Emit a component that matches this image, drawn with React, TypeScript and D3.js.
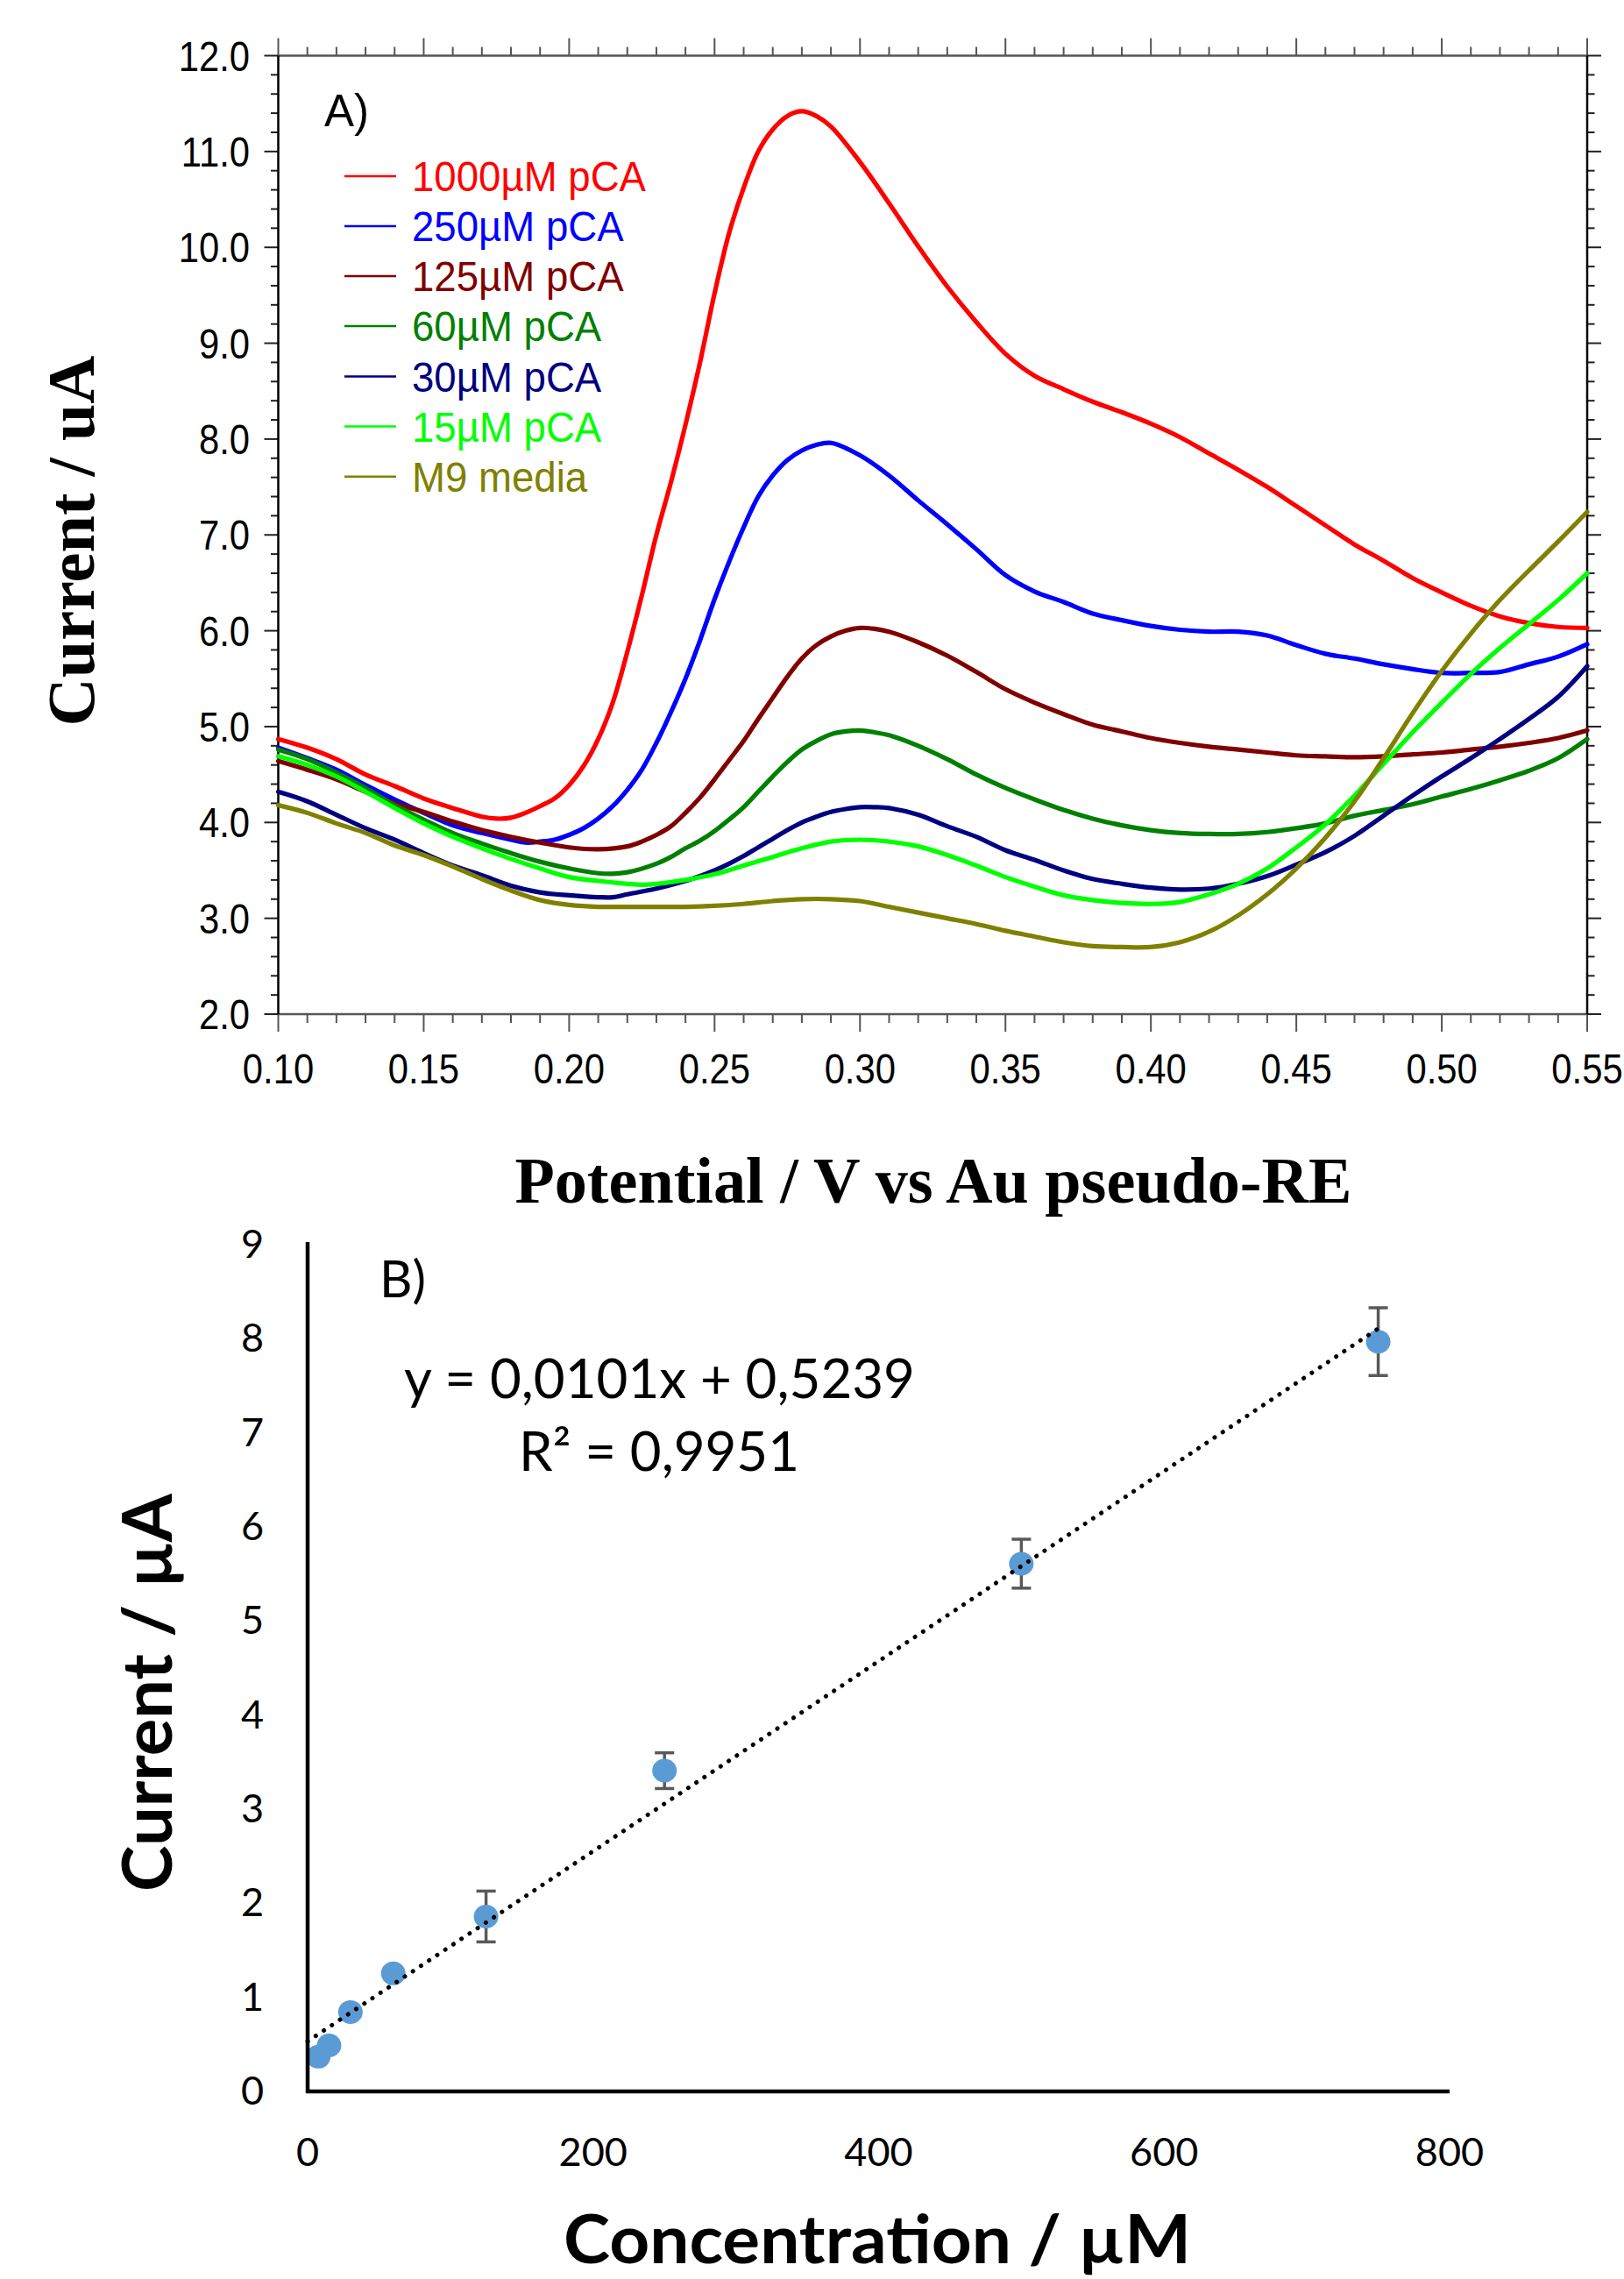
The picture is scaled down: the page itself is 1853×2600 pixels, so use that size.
import React from "react";
import * as d3 from "d3";

// ---------- Panel A data: potential (V) vs current (uA) ----------
const curve1000: [number, number][] = [
  [0.10, 4.87], [0.11, 4.78], [0.12, 4.66], [0.13, 4.50], [0.14, 4.38], [0.15, 4.25], [0.16, 4.15], [0.17, 4.06],
  [0.175, 4.04], [0.18, 4.05], [0.185, 4.10], [0.19, 4.17], [0.195, 4.25], [0.20, 4.39], [0.205, 4.59], [0.21, 4.87],
  [0.215, 5.25], [0.22, 5.78], [0.225, 6.37], [0.23, 7.00], [0.235, 7.55], [0.24, 8.15], [0.245, 8.80], [0.25, 9.52],
  [0.255, 10.15], [0.26, 10.62], [0.265, 11.00], [0.27, 11.23], [0.275, 11.37], [0.28, 11.42], [0.285, 11.37], [0.29, 11.26],
  [0.30, 10.89], [0.31, 10.46], [0.32, 10.01], [0.33, 9.59], [0.34, 9.22], [0.35, 8.89], [0.36, 8.66], [0.37, 8.52],
  [0.38, 8.39], [0.39, 8.28], [0.40, 8.16], [0.41, 8.02], [0.42, 7.85], [0.43, 7.68], [0.44, 7.50], [0.45, 7.30],
  [0.46, 7.10], [0.47, 6.90], [0.48, 6.73], [0.49, 6.55], [0.50, 6.40], [0.51, 6.26], [0.52, 6.15], [0.53, 6.08],
  [0.54, 6.04], [0.55, 6.03],
];
const curve250: [number, number][] = [
  [0.10, 4.78], [0.11, 4.67], [0.12, 4.55], [0.13, 4.39], [0.14, 4.24], [0.15, 4.10], [0.16, 3.97], [0.17, 3.89],
  [0.18, 3.82], [0.185, 3.79], [0.19, 3.80], [0.195, 3.82], [0.20, 3.87], [0.205, 3.94], [0.21, 4.04], [0.215, 4.17],
  [0.22, 4.34], [0.225, 4.55], [0.23, 4.83], [0.235, 5.15], [0.24, 5.50], [0.245, 5.90], [0.25, 6.33], [0.255, 6.72],
  [0.26, 7.08], [0.265, 7.40], [0.27, 7.62], [0.275, 7.78], [0.28, 7.88], [0.285, 7.94], [0.29, 7.96], [0.30, 7.83],
  [0.31, 7.62], [0.32, 7.36], [0.33, 7.11], [0.34, 6.85], [0.35, 6.58], [0.36, 6.41], [0.37, 6.30], [0.38, 6.18],
  [0.39, 6.11], [0.40, 6.05], [0.41, 6.01], [0.42, 5.99], [0.43, 5.99], [0.44, 5.95], [0.45, 5.85], [0.46, 5.76],
  [0.47, 5.71], [0.48, 5.65], [0.49, 5.60], [0.50, 5.56], [0.51, 5.56], [0.52, 5.57], [0.53, 5.65], [0.54, 5.73],
  [0.55, 5.86],
];
const curve125: [number, number][] = [
  [0.10, 4.64], [0.11, 4.55], [0.12, 4.45], [0.13, 4.32], [0.14, 4.20], [0.15, 4.11], [0.16, 4.01], [0.17, 3.92],
  [0.18, 3.85], [0.19, 3.79], [0.20, 3.74], [0.21, 3.72], [0.22, 3.75], [0.225, 3.80], [0.23, 3.87], [0.235, 3.96],
  [0.24, 4.10], [0.245, 4.26], [0.25, 4.45], [0.255, 4.65], [0.26, 4.85], [0.265, 5.08], [0.27, 5.30], [0.275, 5.52],
  [0.28, 5.71], [0.285, 5.85], [0.29, 5.94], [0.295, 6.00], [0.30, 6.03], [0.305, 6.02], [0.31, 5.99], [0.32, 5.88],
  [0.33, 5.74], [0.34, 5.57], [0.35, 5.39], [0.36, 5.25], [0.37, 5.13], [0.38, 5.02], [0.39, 4.95], [0.40, 4.88],
  [0.41, 4.83], [0.42, 4.79], [0.43, 4.76], [0.44, 4.73], [0.45, 4.70], [0.46, 4.69], [0.47, 4.68], [0.48, 4.69],
  [0.49, 4.71], [0.50, 4.73], [0.51, 4.76], [0.52, 4.79], [0.53, 4.83], [0.54, 4.88], [0.55, 4.96],
];
const curve60: [number, number][] = [
  [0.10, 4.76], [0.11, 4.66], [0.12, 4.52], [0.13, 4.36], [0.14, 4.18], [0.15, 4.03], [0.16, 3.89], [0.17, 3.78],
  [0.18, 3.68], [0.19, 3.59], [0.20, 3.52], [0.21, 3.47], [0.215, 3.465], [0.22, 3.48], [0.23, 3.57], [0.235, 3.64],
  [0.24, 3.73], [0.245, 3.81], [0.25, 3.91], [0.255, 4.03], [0.26, 4.16], [0.265, 4.32], [0.27, 4.48], [0.275, 4.63],
  [0.28, 4.76], [0.285, 4.85], [0.29, 4.92], [0.295, 4.95], [0.30, 4.96], [0.305, 4.94], [0.31, 4.91], [0.32, 4.80],
  [0.33, 4.66], [0.34, 4.50], [0.35, 4.36], [0.36, 4.24], [0.37, 4.13], [0.38, 4.04], [0.39, 3.97], [0.40, 3.92],
  [0.41, 3.89], [0.42, 3.88], [0.43, 3.88], [0.44, 3.90], [0.45, 3.94], [0.46, 3.99], [0.47, 4.07], [0.48, 4.13],
  [0.49, 4.19], [0.50, 4.27], [0.51, 4.35], [0.52, 4.44], [0.53, 4.54], [0.54, 4.67], [0.55, 4.87],
];
const curve30: [number, number][] = [
  [0.10, 4.32], [0.11, 4.22], [0.12, 4.08], [0.13, 3.94], [0.14, 3.82], [0.15, 3.68], [0.16, 3.55], [0.17, 3.45],
  [0.18, 3.34], [0.19, 3.27], [0.20, 3.24], [0.21, 3.22], [0.215, 3.22], [0.22, 3.25], [0.23, 3.31], [0.24, 3.39],
  [0.245, 3.44], [0.25, 3.50], [0.255, 3.57], [0.26, 3.65], [0.265, 3.74], [0.27, 3.83], [0.275, 3.92], [0.28, 4.00],
  [0.285, 4.06], [0.29, 4.11], [0.295, 4.14], [0.30, 4.16], [0.305, 4.16], [0.31, 4.15], [0.32, 4.08], [0.33, 3.96],
  [0.34, 3.85], [0.35, 3.71], [0.36, 3.61], [0.37, 3.50], [0.38, 3.41], [0.39, 3.36], [0.40, 3.32], [0.41, 3.30],
  [0.42, 3.31], [0.43, 3.36], [0.44, 3.44], [0.45, 3.56], [0.46, 3.69], [0.47, 3.86], [0.48, 4.07], [0.49, 4.28],
  [0.50, 4.48], [0.51, 4.67], [0.52, 4.87], [0.53, 5.08], [0.54, 5.31], [0.55, 5.63],
];
const curve15: [number, number][] = [
  [0.10, 4.69], [0.11, 4.60], [0.12, 4.48], [0.13, 4.32], [0.14, 4.15], [0.15, 3.99], [0.16, 3.85], [0.17, 3.73],
  [0.18, 3.62], [0.19, 3.52], [0.20, 3.43], [0.21, 3.39], [0.22, 3.36], [0.225, 3.35], [0.23, 3.36], [0.24, 3.40],
  [0.25, 3.46], [0.26, 3.55], [0.27, 3.64], [0.28, 3.73], [0.29, 3.80], [0.30, 3.82], [0.31, 3.80], [0.32, 3.75],
  [0.33, 3.66], [0.34, 3.55], [0.35, 3.43], [0.36, 3.33], [0.37, 3.24], [0.38, 3.19], [0.39, 3.16], [0.40, 3.15],
  [0.41, 3.17], [0.42, 3.25], [0.43, 3.36], [0.44, 3.52], [0.45, 3.74], [0.46, 3.98], [0.47, 4.28], [0.48, 4.61],
  [0.49, 4.94], [0.50, 5.25], [0.51, 5.55], [0.52, 5.82], [0.53, 6.07], [0.54, 6.32], [0.55, 6.60],
];
const curveM9: [number, number][] = [
  [0.10, 4.18], [0.11, 4.10], [0.12, 3.99], [0.13, 3.89], [0.14, 3.76], [0.15, 3.66], [0.16, 3.54], [0.17, 3.41],
  [0.18, 3.29], [0.19, 3.19], [0.20, 3.14], [0.21, 3.12], [0.22, 3.12], [0.23, 3.12], [0.24, 3.12], [0.25, 3.13],
  [0.26, 3.15], [0.27, 3.18], [0.28, 3.20], [0.29, 3.20], [0.30, 3.18], [0.31, 3.12], [0.32, 3.06], [0.33, 3.00],
  [0.34, 2.94], [0.35, 2.87], [0.36, 2.81], [0.37, 2.75], [0.38, 2.71], [0.39, 2.70], [0.40, 2.70], [0.41, 2.75],
  [0.42, 2.86], [0.43, 3.03], [0.44, 3.25], [0.45, 3.52], [0.46, 3.84], [0.47, 4.22], [0.48, 4.67], [0.49, 5.14],
  [0.50, 5.58], [0.51, 5.97], [0.52, 6.32], [0.53, 6.63], [0.54, 6.93], [0.55, 7.24],
];
const seriesA = [curve1000, curve250, curve125, curve60, curve30, curve15, curveM9];
const legendLabels = ["1000µM pCA", "250µM pCA", "125µM pCA", "60µM pCA", "30µM pCA", "15µM pCA", "M9 media"];
const seriesColors = ["#ff0000", "#0000ff", "#800000", "#008000", "#000080", "#00ff00", "#808000"];

const xTicksA = [0.10, 0.15, 0.20, 0.25, 0.30, 0.35, 0.40, 0.45, 0.50, 0.55];
const yTicksA = [2, 3, 4, 5, 6, 7, 8, 9, 10, 11, 12];

// ---------- Panel B data: calibration ----------
const concentrations = [7.5, 15, 30, 60, 125, 250, 500, 750];
const currents = [0.36, 0.48, 0.835, 1.245, 1.85, 3.40, 5.60, 7.96];
const errors = [0.03, 0.04, 0.05, 0.06, 0.27, 0.19, 0.26, 0.36];
const fitSlope = 0.0101;
const fitIntercept = 0.5239;
const xTicksB = [0, 200, 400, 600, 800];
const yTicksB = [0, 1, 2, 3, 4, 5, 6, 7, 8, 9];

export default function App() {
  const xA = d3.scaleLinear().domain([0.1, 0.55]).range([317.5, 1811]);
  const yA = d3.scaleLinear().domain([2, 12]).range([1157, 63.5]);
  const xB = d3.scaleLinear().domain([0, 800]).range([351, 1654]);
  const yB = d3.scaleLinear().domain([0, 9]).range([2385, 1419]);

  const lineA = d3
    .line<[number, number]>()
    .x((d) => xA(d[0]))
    .y((d) => yA(d[1]))
    .curve(d3.curveCatmullRom.alpha(0.5));

  const minorX = d3.range(0, 46).map((i) => 0.1 + i * 0.01);
  const minorY = d3.range(0, 51).map((i) => 2 + i * 0.2);
  const isMajorX = (v: number) => Math.abs(v * 20 - Math.round(v * 20)) < 1e-6;
  const isMajorY = (v: number) => Math.abs(v - Math.round(v)) < 1e-6;

  const sansA = "'Liberation Sans', Arial, sans-serif";
  const serif = "'Liberation Serif', 'Times New Roman', serif";
  const calib = "Lato, 'Noto Sans', sans-serif";

  const legendRows = [201, 258, 315, 372, 429.5, 486.6, 543.75];

  const fitX0 = 0;
  const fitX1 = 750;

  return (
    <svg
      width={1853}
      height={2600}
      style={{ position: "absolute", left: 0, top: 0, display: "block", background: "#fff" }}
    >
      <rect x={0} y={0} width={1853} height={2600} fill="#fff" />

      {/* ===== Panel A ===== */}
      {minorX.map((v, i) => {
        const x = xA(v);
        const len = isMajorX(v) ? 20 : 10;
        return (
          <g key={"tx" + i} stroke="#555" strokeWidth={2}>
            <line x1={x} x2={x} y1={63.5} y2={63.5 - len} />
            <line x1={x} x2={x} y1={1157} y2={1157 + len} />
          </g>
        );
      })}
      {minorY.map((v, i) => {
        const y = yA(v);
        const len = isMajorY(v) ? 16 : 8.5;
        return (
          <g key={"ty" + i} stroke="#222" strokeWidth={2}>
            <line x1={317.5} x2={317.5 - len} y1={y} y2={y} />
            <line x1={1811} x2={1811 + len} y1={y} y2={y} />
          </g>
        );
      })}
      <line x1={317.5} x2={1811} y1={63.5} y2={63.5} stroke="#555" strokeWidth={2.5} />
      <line x1={317.5} x2={1811} y1={1157} y2={1157} stroke="#555" strokeWidth={2.5} />
      <line x1={317.5} x2={317.5} y1={63.5} y2={1157} stroke="#000" strokeWidth={2.5} />
      <line x1={1811} x2={1811} y1={63.5} y2={1157} stroke="#000" strokeWidth={2.5} />

      {yTicksA.map((v) => (
        <text
          key={"yl" + v}
          transform={`translate(285,${yA(v) + 17}) scale(0.87,1)`}
          textAnchor="end"
          fontFamily={sansA}
          fontSize={48}
          fill="#000"
        >
          {d3.format(".1f")(v)}
        </text>
      ))}
      {xTicksA.map((v) => (
        <text
          key={"xl" + v}
          transform={`translate(${xA(v)},1236) scale(0.87,1)`}
          textAnchor="middle"
          fontFamily={sansA}
          fontSize={48}
          fill="#000"
        >
          {d3.format(".2f")(v)}
        </text>
      ))}

      {seriesA.map((s, i) => (
        <path
          key={"c" + i}
          d={lineA(s) || ""}
          fill="none"
          stroke={seriesColors[i]}
          strokeWidth={5.2}
          strokeLinejoin="round"
          strokeLinecap="round"
        />
      ))}

      {legendLabels.map((lab, i) => (
        <g key={"lg" + i}>
          <line x1={393} x2={452} y1={legendRows[i]} y2={legendRows[i]} stroke={seriesColors[i]} strokeWidth={2.5} />
          <text
            transform={`translate(470,${legendRows[i] + 17}) scale(0.95,1)`}
            fontFamily={sansA}
            fontSize={48}
            fill={seriesColors[i]}
          >
            {lab}
          </text>
        </g>
      ))}
      <text x={370} y={144} fontFamily={sansA} fontSize={51} fill="#000">
        A)
      </text>

      <text
        x={1065}
        y={1372}
        textAnchor="middle"
        fontFamily={serif}
        fontWeight="bold"
        fontSize={74}
        textLength={955}
        lengthAdjust="spacingAndGlyphs"
        fill="#000"
      >
        Potential / V vs Au pseudo-RE
      </text>
      <text
        transform="translate(107,617) rotate(-90)"
        textAnchor="middle"
        fontFamily={serif}
        fontWeight="bold"
        fontSize={76}
        textLength={423}
        lengthAdjust="spacingAndGlyphs"
        fill="#000"
      >
        Current / uA
      </text>

      {/* ===== Panel B ===== */}
      {yTicksB.map((v) => (
        <text
          key={"ybl" + v}
          x={301}
          y={yB(v) + 16}
          textAnchor="end"
          fontFamily={calib}
          fontSize={45}
          fill="#000"
        >
          {v}
        </text>
      ))}
      {xTicksB.map((v) => (
        <text
          key={"xbl" + v}
          x={xB(v)}
          y={2471}
          textAnchor="middle"
          fontFamily={calib}
          fontSize={45}
          fill="#000"
        >
          {v}
        </text>
      ))}

      {concentrations.map((c, i) => {
        const x = xB(c);
        const y1 = yB(currents[i] - errors[i]);
        const y2 = yB(currents[i] + errors[i]);
        return (
          <g key={"eb" + i} stroke="#595959" strokeWidth={3.5}>
            <line x1={x} x2={x} y1={y1} y2={y2} />
            <line x1={x - 11} x2={x + 11} y1={y1} y2={y1} />
            <line x1={x - 11} x2={x + 11} y1={y2} y2={y2} />
          </g>
        );
      })}
      {concentrations.map((c, i) => (
        <ellipse key={"pt" + i} cx={xB(c)} cy={yB(currents[i])} rx={14} ry={13.5} fill="#5B9BD5" />
      ))}
      <line
        x1={xB(fitX0)}
        y1={yB(fitSlope * fitX0 + fitIntercept)}
        x2={xB(fitX1)}
        y2={yB(fitSlope * fitX1 + fitIntercept)}
        stroke="#000"
        strokeWidth={5}
        strokeDasharray="0.1 11"
        strokeLinecap="round"
      />

      <line x1={351} x2={351} y1={1417} y2={2388} stroke="#000" strokeWidth={4.5} />
      <line x1={349} x2={1654} y1={2386} y2={2386} stroke="#000" strokeWidth={4.5} />

      <text x={433} y={1480} fontFamily={calib} fontSize={58} fill="#000">
        B)
      </text>
      <text
        x={461}
        y={1595}
        fontFamily={calib}
        fontSize={62}
        textLength={583}
        lengthAdjust="spacingAndGlyphs"
        fill="#000"
      >
        y = 0,0101x + 0,5239
      </text>
      <text
        x={592}
        y={1678}
        fontFamily={calib}
        fontSize={62}
        textLength={320}
        lengthAdjust="spacingAndGlyphs"
        fill="#000"
      >
        R² = 0,9951
      </text>

      <text
        x={1001}
        y={2582}
        textAnchor="middle"
        fontFamily={calib}
        fontWeight="bold"
        fontSize={76}
        textLength={716}
        lengthAdjust="spacingAndGlyphs"
        fill="#000"
      >
        Concentration / µM
      </text>
      <text
        transform="translate(196,1931) rotate(-90)"
        textAnchor="middle"
        fontFamily={calib}
        fontWeight="bold"
        fontSize={78}
        textLength={454}
        lengthAdjust="spacingAndGlyphs"
        fill="#000"
      >
        Current / µA
      </text>
    </svg>
  );
}
